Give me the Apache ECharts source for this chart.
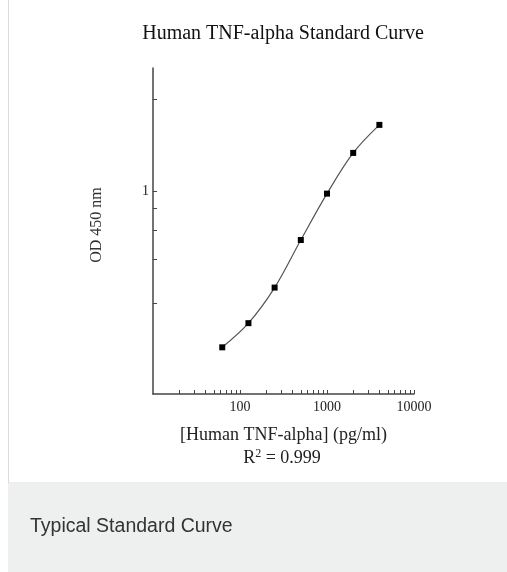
<!DOCTYPE html>
<html>
<head>
<meta charset="utf-8">
<script src="https://cdn.jsdelivr.net/npm/echarts@6/dist/echarts.min.js"></script>
<style>
html,body{margin:0;padding:0;background:#fff;}
#chart{width:507px;height:572px;}
</style>
</head>
<body>
<div id="chart"></div>
<script>
// Data
const concentrations = [62.5, 125, 250, 500, 1000, 2000, 4000]; // pg/ml
const odValues = [0.129, 0.177, 0.282, 0.526, 0.965, 1.645, 2.374]; // OD 450 nm
const xTickValues = [20,30,40,50,60,70,80,90,100,200,300,400,500,600,700,800,900,1000,2000,3000,4000,5000,6000,7000,8000,9000,10000];
const xLabelValues = [100, 1000, 10000];
const yTickValues = [3.3, 1, 0.8, 0.6, 0.41, 0.23];
const yLabelValues = [1];

const titleText = 'Human TNF-alpha Standard Curve';
const xName = '[Human TNF-alpha] (pg/ml)';
const yName = 'OD 450 nm';
const caption = 'Typical Standard Curve';

const serif = '"Liberation Serif", "DejaVu Serif", serif';
const sans = '"Liberation Sans", Arial, sans-serif';

const chart = echarts.init(document.getElementById('chart'), null, {renderer: 'canvas'});
chart.setOption({
  animation: false,
  backgroundColor: '#fff',
  grid: {left: 153, right: 93, top: 68, bottom: 178, containLabel: false},
  xAxis: {
    type: 'log', logBase: 10, min: 10, max: 10000,
    name: xName, nameLocation: 'middle', nameGap: 32,
    nameTextStyle: {fontFamily: serif, fontSize: 18, color: '#222'},
    axisLine: {show: true, onZero: false, lineStyle: {color: '#444', width: 1.5}},
    axisTick: {show: true, inside: true, length: 4, customValues: xTickValues, lineStyle: {color: '#444', width: 1}},
    axisLabel: {customValues: xLabelValues, formatter: v => String(v), fontFamily: serif, fontSize: 14, color: '#222', margin: 6},
    splitLine: {show: false}, minorTick: {show: false}
  },
  yAxis: {
    type: 'log', logBase: 10, min: 0.07, max: 5,
    axisLine: {show: true, onZero: false, lineStyle: {color: '#444', width: 1.5}},
    axisTick: {show: true, inside: true, length: 4, customValues: yTickValues, lineStyle: {color: '#444', width: 1}},
    axisLabel: {customValues: yLabelValues, formatter: v => String(v), fontFamily: serif, fontSize: 14, color: '#222', margin: 4},
    splitLine: {show: false}, minorTick: {show: false}
  },
  series: [{
    type: 'line',
    data: concentrations.map((c, i) => [c, odValues[i]]),
    smooth: 0.35,
    symbol: 'rect', symbolSize: 6,
    itemStyle: {color: '#000'},
    lineStyle: {color: '#555', width: 1.2}
  }],
  graphic: [
    {type: 'rect', z: -10, shape: {x: 8.5, y: -1, width: 510, height: 484}, style: {fill: '#fff', stroke: '#dcdcdc', lineWidth: 1}},
    {type: 'rect', z: -10, shape: {x: 8, y: 483, width: 500, height: 90}, style: {fill: '#eef0ef'}},
    {type: 'text', x: 283, y: 34, style: {text: titleText, fontFamily: serif, fontSize: 20, fill: '#111', textAlign: 'center', textVerticalAlign: 'middle'}},
    {type: 'text', x: 97, y: 225, rotation: Math.PI / 2, style: {text: yName, fontFamily: serif, fontSize: 16, fill: '#333', textAlign: 'center', textVerticalAlign: 'middle'}},
    {type: 'text', x: 282, y: 458, style: {
      text: 'R{sup|2} = 0.999', fontFamily: serif, fontSize: 18, fill: '#222', textAlign: 'center', textVerticalAlign: 'middle',
      rich: {sup: {fontFamily: serif, fontSize: 12, verticalAlign: 'top', padding: [0, 0, 9, 0], fill: '#222'}}
    }},
    {type: 'text', x: 30, y: 527, style: {text: caption, fontFamily: sans, fontSize: 19.5, fill: '#333', textAlign: 'left', textVerticalAlign: 'middle'}}
  ]
});
</script>
</body>
</html>
